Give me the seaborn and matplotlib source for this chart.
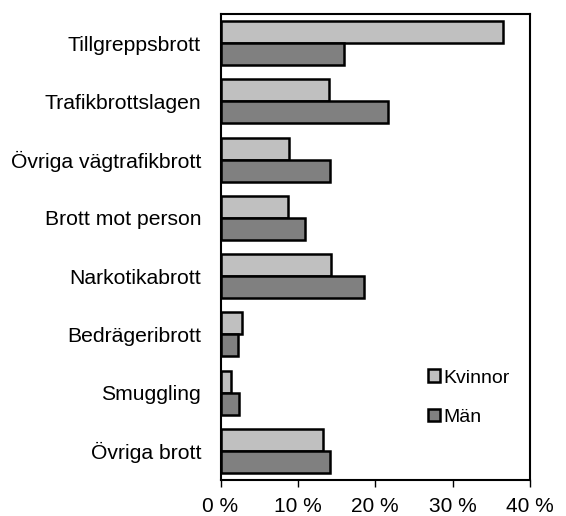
import matplotlib
matplotlib.use("Agg")
import matplotlib.pyplot as plt
import seaborn as sns
import pandas as pd
from matplotlib.patches import Patch
from matplotlib.ticker import FuncFormatter

categories = ["Tillgreppsbrott", "Trafikbrottslagen", "Övriga vägtrafikbrott",
              "Brott mot person", "Narkotikabrott", "Bedrägeribrott",
              "Smuggling", "Övriga brott"]
kvinnor = [36.5, 14.0, 8.8, 8.7, 14.3, 2.8, 1.3, 13.3]
man = [15.9, 21.7, 14.1, 10.9, 18.5, 2.2, 2.4, 14.2]
series = ["Kvinnor", "Män"]
xticks = [0, 10, 20, 30, 40]

df = pd.DataFrame({
    "Brott": categories * 2,
    "Kön": [series[0]] * len(categories) + [series[1]] * len(categories),
    "Andel": kvinnor + man,
})

sns.set_style("white")
plt.rcParams["font.family"] = ["Liberation Sans", "DejaVu Sans"]
plt.rcParams["text.color"] = "black"
plt.rcParams["xtick.color"] = "black"
plt.rcParams["ytick.color"] = "black"

colors = {"Kvinnor": "#c0c0c0", "Män": "#808080"}

fig = plt.figure(figsize=(5.66, 5.16), dpi=100)
ax = fig.add_axes([0.3896, 0.0698, 0.5468, 0.9031])

sns.barplot(data=df, y="Brott", x="Andel", hue="Kön", order=categories,
            hue_order=series, palette=colors, orient="h", width=0.755,
            edgecolor="black", linewidth=1.8, saturation=1, ax=ax, legend=False)

ax.set_xlim(0, 40)
ax.set_xticks(xticks)
ax.xaxis.set_major_formatter(FuncFormatter(lambda v, p: f"{int(v)} %"))
ax.set_xlabel("")
ax.set_ylabel("")
ax.tick_params(axis="x", direction="out", length=5, width=1, color="black",
               labelsize=15, labelcolor="black", pad=7, bottom=True)
ax.tick_params(axis="y", length=0, labelsize=15.2, labelcolor="black", pad=14)
for s in ax.spines.values():
    s.set_visible(True)
    s.set_color("black")
    s.set_linewidth(1.5)

handles = [Patch(facecolor=colors[s], edgecolor="black", linewidth=1.8, label=s)
           for s in series]
ax.legend(handles=handles, loc="upper left", bbox_to_anchor=(0.64, 0.258),
          frameon=False, fontsize=14, handlelength=0.6, handleheight=0.6,
          handletextpad=0.2, labelspacing=1.15, borderpad=0, labelcolor="black")

fig.savefig("out.png", dpi=100)
